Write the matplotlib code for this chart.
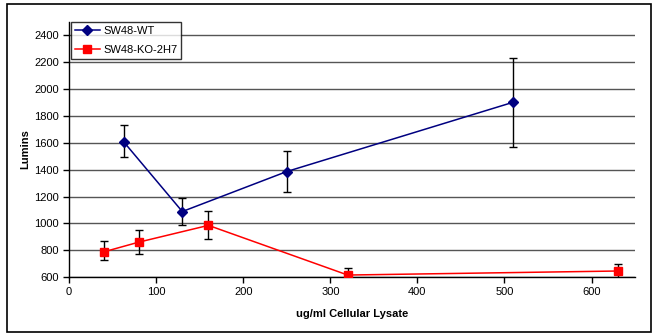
import numpy as np
import matplotlib
matplotlib.use('Agg')
import matplotlib.pyplot as plt
from matplotlib.patches import Rectangle

plt.rcParams['font.family'] = ['Liberation Sans', 'DejaVu Sans']

# data
wt_x = [63, 130, 250, 510]
wt_y = [1605, 1088, 1386, 1902]
wt_lo = [1493, 987, 1235, 1570]
wt_hi = [1736, 1186, 1540, 2232]

ko_x = [40, 80, 160, 320, 630]
ko_y = [788, 860, 985, 615, 645]
ko_lo = [724, 773, 885, 562, 596]
ko_hi = [868, 952, 1091, 669, 694]

y_ticks = [600, 800, 1000, 1200, 1400, 1600, 1800, 2000, 2200, 2400]
x_ticks = [0, 100, 200, 300, 400, 500, 600]

fig = plt.figure(figsize=(6.52, 3.33), dpi=100)
ax = fig.add_axes([0.106, 0.168, 0.868, 0.766])

# outer frame of the chart area
fig.patches.append(Rectangle((7 / 652, 0.004), 1 - 8 / 652, 1 - 5 / 333,
                             transform=fig.transFigure, fill=False,
                             edgecolor='black', linewidth=1.2))

wt_err = [np.array(wt_y) - np.array(wt_lo), np.array(wt_hi) - np.array(wt_y)]
ko_err = [np.array(ko_y) - np.array(ko_lo), np.array(ko_hi) - np.array(ko_y)]

ax.errorbar(wt_x, wt_y, yerr=wt_err, fmt='none', ecolor='black',
            elinewidth=1, capsize=3, zorder=3)
ax.errorbar(ko_x, ko_y, yerr=ko_err, fmt='none', ecolor='black',
            elinewidth=1, capsize=3, zorder=3)
ax.plot(wt_x, wt_y, color='#000080', marker='D', markersize=5,
        linewidth=1.1, label='SW48-WT', zorder=4)
ax.plot(ko_x, ko_y, color='#ff0000', marker='s', markersize=5.5,
        linewidth=1.1, label='SW48-KO-2H7', zorder=4)

ax.set_xlim(0, 650)
ax.set_ylim(600, 2500)
ax.set_xticks(x_ticks)
ax.set_yticks(y_ticks)
ax.tick_params(labelsize=8, direction='out', length=4, width=1)
ax.grid(axis='y', color='#555555', linewidth=1)
ax.set_axisbelow(True)
for s in ['top', 'right']:
    ax.spines[s].set_visible(False)
ax.spines['left'].set_linewidth(1)
ax.spines['bottom'].set_linewidth(1)

ax.set_xlabel('ug/ml Cellular Lysate', fontsize=8, fontweight='bold', labelpad=8)
ax.set_ylabel('Lumins', fontsize=8, fontweight='bold', labelpad=3)

leg = ax.legend(loc='upper left', bbox_to_anchor=(0.004, 1.0), fontsize=8,
                frameon=True, fancybox=False, borderaxespad=0,
                handlelength=2.2, handletextpad=0.3, borderpad=0.35,
                labelspacing=0.85)
leg.get_frame().set_edgecolor('black')
leg.get_frame().set_linewidth(1)

fig.savefig('out.png', dpi=100)
